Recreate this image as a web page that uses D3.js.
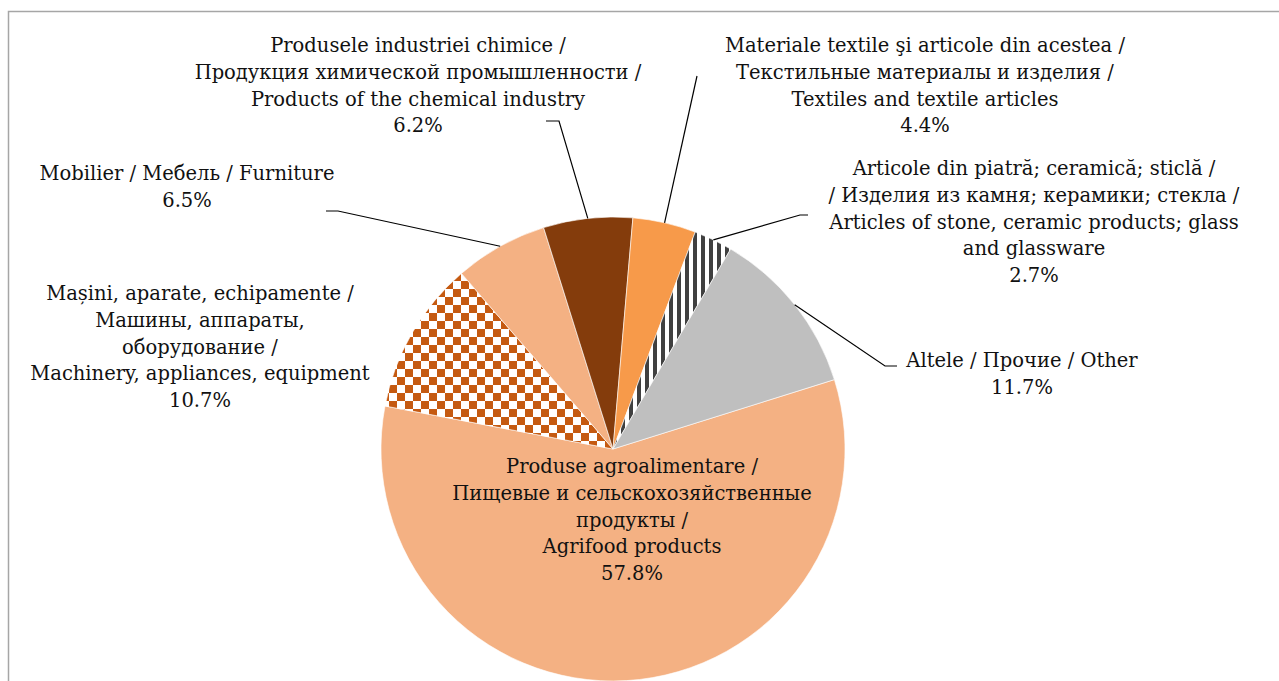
<!DOCTYPE html>
<html>
<head>
<meta charset="utf-8" />
<script src="https://d3js.org/d3.v7.min.js"></script>
<style>
  body { margin: 0; background: #fff; }
  svg { display: block; }
  text { font-family: "DejaVu Serif", serif; font-size: 19.5px; fill: #111; }
</style>
</head>
<body>
<svg id="chart" width="1279" height="681"></svg>
<script>
// categories (label lines) and shares, %
const categories = [
  ["Produse agroalimentare /", "Пищевые и сельскохозяйственные", "продукты /", "Agrifood products"],
  ["Mașini, aparate, echipamente /", "Машины, аппараты,", "оборудование /", "Machinery, appliances, equipment"],
  ["Mobilier / Мебель / Furniture"],
  ["Produsele industriei chimice /", "Продукция химической промышленности /", "Products of the chemical industry"],
  ["Materiale textile şi articole din acestea /", "Текстильные материалы и изделия /", "Textiles and textile articles"],
  ["Articole din piatră; ceramică; sticlă /", "/ Изделия из камня; керамики; стекла /", "Articles of stone, ceramic products; glass", "and glassware"],
  ["Altele / Прочие / Other"]
];
const values = [57.8, 10.7, 6.5, 6.2, 4.4, 2.7, 11.7];
const fills = ["#F4B183", "url(#checker)", "#F4B183", "#843C0C", "#F79A4A", "url(#stripes)", "#BFBFBF"];

// label layout: text centre x, first line y, leader elbow & end (null = label inside)
const layout = [
  { x: 632, y: 466, leader: null },
  { x: 200, y: 293, leader: null },
  { x: 187, y: 173, leader: [[338, 211], [326, 211]] },
  { x: 418, y: 45, leader: [[559, 121], [546, 121]] },
  { x: 925, y: 45, leader: [[697, 76], [697, 76]] },
  { x: 1034, y: 168, leader: [[800, 215], [808, 215]] },
  { x: 1022, y: 360, leader: [[885, 366], [897, 366]] }
];

const cx = 613, cy = 449, radius = 232, lineH = 26.8;
const svg = d3.select("#chart");

// patterns
const defs = svg.append("defs");
const checker = defs.append("pattern").attr("id", "checker")
  .attr("patternUnits", "userSpaceOnUse").attr("width", 16).attr("height", 16);
checker.append("rect").attr("width", 16).attr("height", 16).attr("fill", "#fff");
checker.append("rect").attr("width", 8).attr("height", 8).attr("fill", "#C55A11");
checker.append("rect").attr("x", 8).attr("y", 8).attr("width", 8).attr("height", 8).attr("fill", "#C55A11");

const stripes = defs.append("pattern").attr("id", "stripes")
  .attr("patternUnits", "userSpaceOnUse").attr("width", 8).attr("height", 8);
stripes.append("rect").attr("width", 8).attr("height", 8).attr("fill", "#fff");
stripes.append("rect").attr("width", 4).attr("height", 8).attr("fill", "#404040");

// chart frame
svg.append("rect")
  .attr("x", 8.5).attr("y", 11.5).attr("width", 1400).attr("height", 800)
  .attr("fill", "none").attr("stroke", "#a6a6a6").attr("stroke-width", 1.5);

const start = 72.6 * Math.PI / 180;
const pie = d3.pie().sort(null).value(d => d)
  .startAngle(start).endAngle(start + 2 * Math.PI);
const arcs = pie(values);
const arc = d3.arc().innerRadius(0).outerRadius(radius);

const g = svg.append("g").attr("transform", `translate(${cx},${cy})`);
g.selectAll("path.slice")
  .data(arcs)
  .enter()
  .append("path")
  .attr("class", "slice")
  .attr("d", arc)
  .attr("fill", (d, i) => fills[i])
  .attr("stroke", "#fff")
  .attr("stroke-width", 0.6);

// leader lines
const line = d3.line();
arcs.forEach((a, i) => {
  const L = layout[i].leader;
  if (!L) return;
  const mid = (a.startAngle + a.endAngle) / 2;
  const p0 = [cx + radius * Math.sin(mid), cy - radius * Math.cos(mid)];
  svg.append("path")
    .attr("d", line([p0, L[0], L[1]]))
    .attr("fill", "none")
    .attr("stroke", "#000")
    .attr("stroke-width", 1.2);
});

// labels
arcs.forEach((a, i) => {
  const lines = categories[i].concat([values[i].toFixed(1) + "%"]);
  const t = svg.append("text")
    .attr("text-anchor", "middle")
    .attr("dominant-baseline", "central");
  t.selectAll("tspan")
    .data(lines)
    .enter()
    .append("tspan")
    .attr("x", layout[i].x)
    .attr("y", (d, k) => layout[i].y + k * lineH)
    .text(d => d);
});
</script>
</body>
</html>
